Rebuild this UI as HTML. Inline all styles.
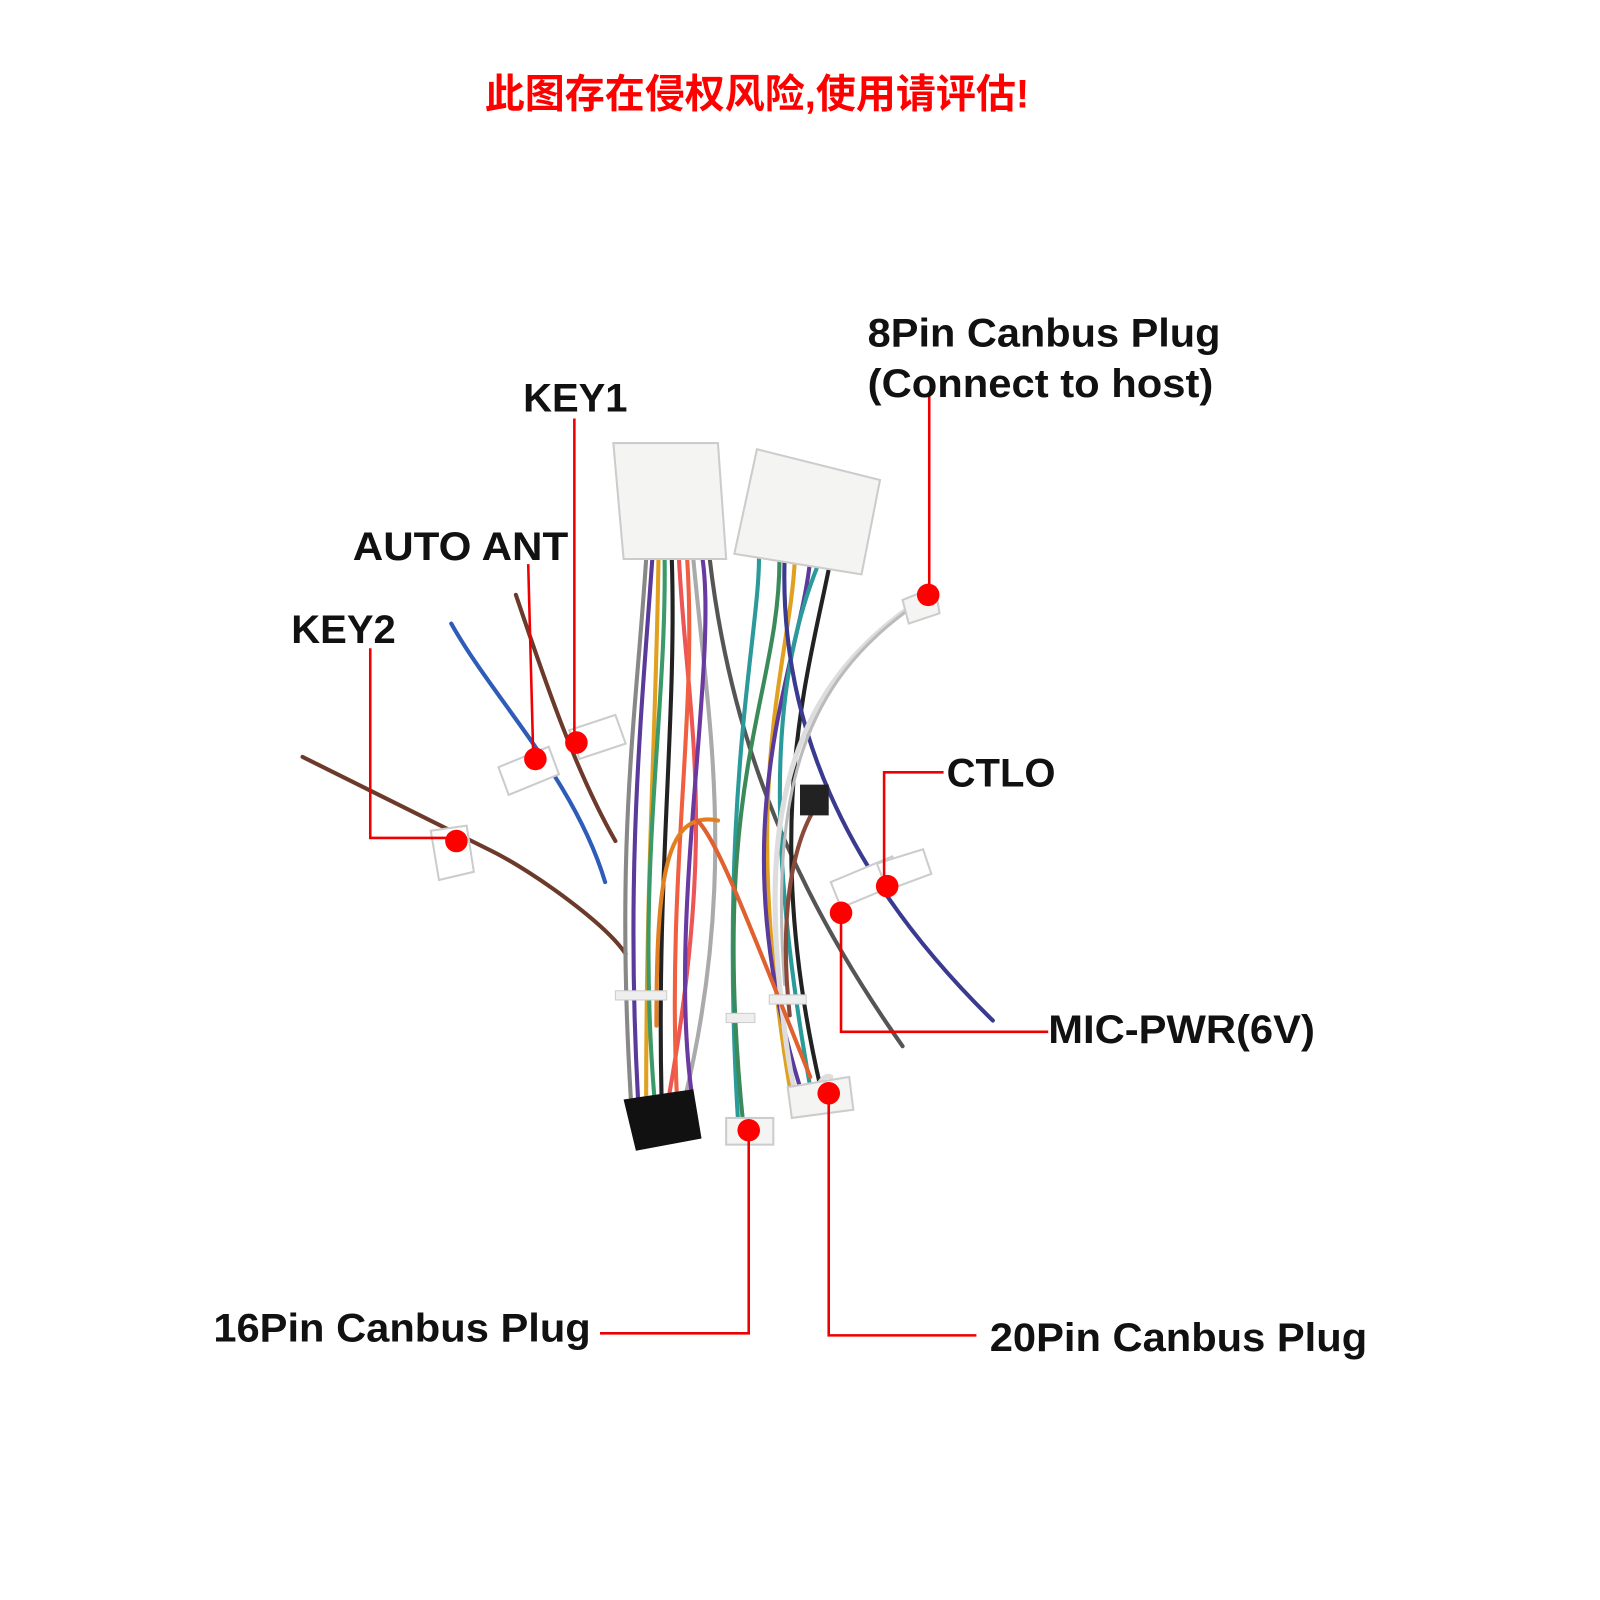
<!DOCTYPE html>
<html><head><meta charset="utf-8"><style>
html,body{margin:0;padding:0;background:#fff;}
svg{display:block}
text{font-family:"Liberation Sans",Arial,sans-serif;font-weight:bold;fill:#111;}
</style></head><body>
<svg width="1600" height="1600" viewBox="0 0 1560 1560" xmlns="http://www.w3.org/2000/svg">
<text x="738" y="105" text-anchor="middle" style="font-family:'Liberation Sans','Noto Sans CJK SC',sans-serif;font-weight:bold;fill:#f00;font-size:39px">此图存在侵权风险,使用请评估!</text>

<!-- wires -->
<g fill="none" stroke-width="4" stroke-linecap="round">
<path d="M295 738 C380 780 440 810 480 830 S590 900 610 930" stroke="#6b3a2a"/>
<path d="M440 608 C480 680 560 760 590 860" stroke="#2f5cb8"/>
<path d="M503 580 C530 660 560 750 600 820" stroke="#6b3a2a"/>
<path d="M630 545 C620 700 600 820 615 1070" stroke="#888"/>
<path d="M636 545 C625 700 610 850 622 1070" stroke="#5a3a9a"/>
<path d="M642 545 C640 700 630 850 630 1070" stroke="#e0a020"/>
<path d="M648 545 C650 700 620 850 638 1070" stroke="#3a9a6a"/>
<path d="M655 545 C660 700 640 850 645 1070" stroke="#222"/>
<path d="M662 545 C670 700 700 800 652 1070" stroke="#e55"/>
<path d="M670 545 C680 700 650 850 660 1070" stroke="#f06040"/>
<path d="M676 545 C690 700 720 850 668 1070" stroke="#aaa"/>
<path d="M685 545 C700 650 650 900 675 1070" stroke="#6a3aa0"/>
<path d="M692 545 C710 700 760 850 880 1020" stroke="#555"/>
<path d="M740 545 C740 620 700 780 720 1100" stroke="#2a9a9a"/>
<path d="M760 545 C760 680 690 760 725 1100" stroke="#3a8a5a"/>
<path d="M775 545 C770 650 720 760 770 1060" stroke="#e0a020"/>
<path d="M790 545 C780 650 700 800 780 1060" stroke="#5a3a9a"/>
<path d="M800 545 C760 640 740 780 790 1060" stroke="#2a9a9a"/>
<path d="M810 545 C790 650 740 800 800 1060" stroke="#222"/>
<path d="M765 545 C760 700 820 850 968 995" stroke="#3a3a90"/>
<path d="M890 590 C790 660 740 760 760 960 S790 1040 810 1050" stroke="#ddd" stroke-width="5"/>
<path d="M885 595 C790 665 750 760 765 960" stroke="#bbb" stroke-width="3"/>
<path d="M800 780 C770 820 760 900 770 990" stroke="#8a4a3a"/>
<path d="M700 800 C650 790 640 850 640 1000" stroke="#e08020"/>
<path d="M680 800 C700 820 730 900 790 1050" stroke="#e06030"/>
</g>
<rect x="600" y="966" width="50" height="9" fill="#eee" stroke="#ccc"/>
<rect x="708" y="988" width="28" height="9" fill="#eee" stroke="#ccc"/>
<rect x="750" y="970" width="36" height="9" fill="#eee" stroke="#ccc"/>
<g stroke="#ccc" stroke-width="2" fill="#f4f4f2">
<path d="M598 432 L700 432 L708 545 L608 545 Z"/>
<path d="M738 438 L858 468 L840 560 L716 540 Z"/>
<rect x="708" y="1090" width="46" height="26"/>
<path d="M768 1060 L828 1050 L832 1082 L772 1090 Z"/>
<path d="M880 585 L912 572 L916 598 L886 608 Z"/>
<path d="M486 748 L535 728 L545 755 L496 775 Z" fill="#fff"/>
<path d="M555 712 L600 697 L610 725 L565 740 Z" fill="#fff"/>
<path d="M420 810 L455 805 L462 850 L428 858 Z" fill="#fff"/>
<path d="M810 860 L870 835 L880 860 L820 885 Z" fill="#fff"/>
<path d="M855 842 L900 828 L908 852 L865 868 Z" fill="#fff"/>
</g>
<path d="M608 1072 L676 1062 L684 1110 L620 1122 Z" fill="#111"/>
<rect x="780" y="765" width="28" height="30" fill="#222"/>

<g stroke="#e00" stroke-width="2.5" fill="none">
<path d="M560 408 V722"/>
<path d="M515 550 L520 740"/>
<path d="M361 632 V817 H445"/>
<path d="M906 385 V580"/>
<path d="M920 753 H862 V865"/>
<path d="M820 890 V1006 H1022"/>
<path d="M730 1100 V1300 H585"/>
<path d="M808 1066 V1302 H952"/>
</g>
<g fill="#f00">
<circle cx="562" cy="724" r="11"/><circle cx="522" cy="740" r="11"/><circle cx="445" cy="820" r="11"/>
<circle cx="905" cy="580" r="11"/><circle cx="865" cy="864" r="11"/><circle cx="820" cy="890" r="11"/>
<circle cx="730" cy="1102" r="11"/><circle cx="808" cy="1066" r="11"/>
</g>
<g font-size="39">
<text x="846" y="338" textLength="344" lengthAdjust="spacingAndGlyphs">8Pin Canbus Plug</text>
<text x="846" y="387" textLength="337" lengthAdjust="spacingAndGlyphs">(Connect to host)</text>
<text x="510" y="401">KEY1</text>
<text x="344" y="546" textLength="210" lengthAdjust="spacingAndGlyphs">AUTO ANT</text>
<text x="284" y="627">KEY2</text>
<text x="923" y="767">CTLO</text>
<text x="1022" y="1017" textLength="260" lengthAdjust="spacingAndGlyphs">MIC-PWR(6V)</text>
<text x="208" y="1308" textLength="368" lengthAdjust="spacingAndGlyphs">16Pin Canbus Plug</text>
<text x="965" y="1317" textLength="368" lengthAdjust="spacingAndGlyphs">20Pin Canbus Plug</text>
</g>
</svg>
</body></html>
